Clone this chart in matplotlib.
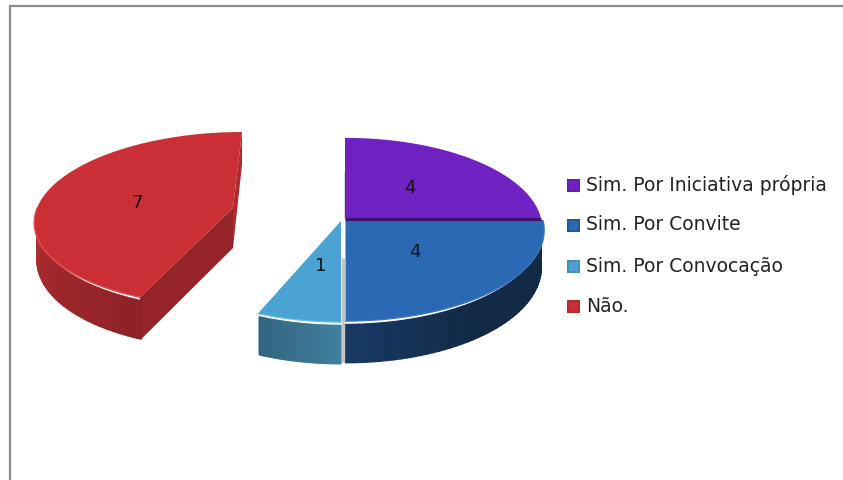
import numpy as np
import matplotlib
matplotlib.use("Agg")
import matplotlib.pyplot as plt
from matplotlib.colors import to_rgb

labels = ["Sim. Por Iniciativa própria", "Sim. Por Convite", "Sim. Por Convocação", "Não."]
values = [4, 4, 1, 7]
top_colors = ["#6f21c1", "#2c69b4", "#4aa3d3", "#c92f35"]
wall_from = ["#4a1585", "#173a66", "#40809f", "#b02e33"]
wall_to = ["#4a1585", "#122a46", "#33647f", "#8f2226"]
rim_colors = ["#7c2bd0", "#3a78c4", "#6cc0ea", "#ef4f55"]

# centre x, centre y, rx, ry, perspective, shear for each slice (pixels)
geom = [(345, 218.5, 196, 89.5, 0.11, 0),
        (345.5, 220, 197.5, 90, 0.11, 0),
        (341, 221, 195, 90, 0.11, 0),
        (233, 208, 196, 85.5, 0.125, -9)]
depth = 37

def rim(a, g, d=0):
    cx, cy, rx, ry, k, sh = g
    u, v = np.sin(a), -np.cos(a)
    s = 1 / (1 - k * v)
    if d > 0:
        rx = rx * 0.985
    return cx + rx * u * s + sh * v, cy + ry * v * s + d * s

def hub(g, d=0):
    return g[0], g[1] + d

def mix(c1, c2, t):
    c1, c2 = np.array(to_rgb(c1)), np.array(to_rgb(c2))
    return tuple(c1 + (c2 - c1) * t)

fig = plt.figure(figsize=(8.43, 4.8), dpi=100)
ax = fig.add_axes([0, 0, 1, 1])
ax.set_xlim(0, 843)
ax.set_ylim(480, 0)
ax.axis("off")

# frame
ax.plot([9.5, 9.5, 843], [480, 5.5, 5.5], color="#8c8c8c", lw=1.6, solid_joinstyle="miter")

edges = np.cumsum([0] + values) / sum(values) * 2 * np.pi

# far slice first, then the ones in front
for i in [3, 2, 1, 0]:
    g = geom[i]
    a0, a1 = edges[i], edges[i + 1]
    zo = 3 + (3 - i)
    if i == 3:
        # cut faces of the pulled out slice
        hx, hy = hub(g)
        bx, by = hub(g, depth + 3)
        tx, ty = rim(a1, g)
        tbx, tby = rim(a1, g, depth)
        ax.fill([tx, tbx, bx, hx], [ty, tby, by, hy], color="#ad2a2f", lw=0, zorder=zo)
        fx, fy = rim(a0, g)
        fbx, fby = rim(a0, g, depth)
        ax.fill([hx, bx, fbx, fx], [hy, by, fby, fy], color="#952327", lw=0, zorder=zo)
    if i != 0:
        # outer wall, in strips for the shading
        stop = a1 if i != 3 else a0 + (a1 - a0) * 0.43
        steps = np.linspace(a0, stop, 50)
        for j in range(len(steps) - 1):
            p, q = steps[j], steps[j + 1]
            if i == 3:
                t = 1 - j / 49
            elif i == 1:
                t = min(1, (49 - j) / 20)
            else:
                t = j / 49 if i == 2 else 1
            x0, y0 = rim(p, g, 3)
            x1, y1 = rim(q, g, 3)
            x2, y2 = rim(q, g, depth)
            x3, y3 = rim(p, g, depth)
            c = mix(wall_from[i], wall_to[i], t)
            ax.fill([x0, x1, x2, x3], [y0, y1, y2, y3], color=c, lw=1.0, ec=c, zorder=zo,
                    joinstyle="round")
    # top face
    aa = np.linspace(a0, a1, 120)
    xs, ys = rim(aa, g)
    ax.fill(np.r_[g[0], xs], np.r_[g[1], ys], color=top_colors[i], lw=0, zorder=zo + 0.1)
    if i != 0:
        front = aa[-np.cos(aa) > 0]
        fx2, fy2 = rim(front, g)
        ax.plot(fx2, fy2, color=rim_colors[i], lw=0.9, zorder=zo + 0.2)

# cut edge below the purple slice and light gap between the slices
ax.plot([345, 541], [218.5, 218.5], color="#3f1270", lw=2.2, zorder=9, solid_capstyle="butt")
ax.plot([343.2, 343.2], [258, 362], color="#c4c4c4", lw=2.4, zorder=9, solid_capstyle="butt")
ax.plot([344.2, 344.2], [172, 218], color="#d8d8d8", lw=0.8, zorder=2)

# data labels
for txt, x, y in zip(values, [410, 415, 321, 137], [188, 252, 266, 203]):
    ax.text(x, y, str(txt), ha="center", va="center", fontsize=13, color="#111111", zorder=12)

# legend
for lab, col, dark, y in zip(labels, top_colors, wall_to, [185, 225, 266, 306]):
    edge = mix(col, dark, 0.3)
    ax.fill([567, 580, 580, 567], [y - 6.5, y - 6.5, y + 6.5, y + 6.5], color=edge, lw=0, zorder=10)
    ax.fill([569, 578, 578, 569], [y - 4.5, y - 4.5, y + 5, y + 5], color=col, lw=0, zorder=11)
    ax.text(586, y, lab, ha="left", va="center", fontsize=13.5, color="#222222", zorder=12)

plt.savefig("out.png", dpi=100)
